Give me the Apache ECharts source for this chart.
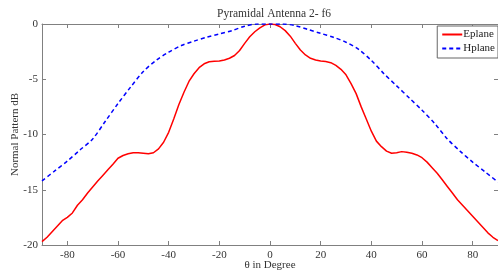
<!DOCTYPE html>
<html>
<head>
<meta charset="utf-8">
<script src="https://cdn.jsdelivr.net/npm/echarts@6/dist/echarts.min.js"></script>
<style>
  html, body { margin: 0; padding: 0; background: #fff; }
  #chart { width: 498px; height: 273px; }
</style>
</head>
<body>
<div id="chart"></div>
<script>
// E-plane pattern (dB)
const thetaE = [-90, -88, -86, -84, -82, -80, -78, -76, -74, -72, -70, -68, -66, -64, -62, -60,
  -58, -56, -54, -52, -50, -48, -46, -44, -42, -40, -38, -36, -34, -32, -30, -28, -26, -24, -22,
  -20, -18, -16, -14, -12, -10, -8, -6, -4, -2, 0, 2, 4, 6, 8, 10, 12, 14, 16, 18, 20, 22, 24, 26,
  28, 30, 32, 34, 36, 38, 40, 42, 44, 46, 48, 50, 52, 54, 56, 58, 60, 62, 64, 66, 68, 70, 72, 74,
  76, 78, 80, 82, 84, 86, 88, 90]
const eplane = [-19.7, -19.3, -18.8, -18.3, -17.8, -17.5, -17.1, -16.4, -15.9, -15.3, -14.75,
  -14.2, -13.7, -13.2, -12.7, -12.15, -11.9, -11.75, -11.65, -11.65, -11.7, -11.75, -11.65, -11.3,
  -10.7, -9.8, -8.6, -7.3, -6.2, -5.2, -4.5, -3.95, -3.6, -3.42, -3.38, -3.35, -3.25, -3.1, -2.85,
  -2.4, -1.75, -1.15, -0.7, -0.35, -0.08, 0, -0.05, -0.25, -0.6, -1.1, -1.75, -2.35, -2.8, -3.1,
  -3.25, -3.35, -3.4, -3.5, -3.75, -4.1, -4.6, -5.4, -6.3, -7.5, -8.6, -9.7, -10.6, -11.1, -11.5,
  -11.7, -11.65, -11.55, -11.6, -11.7, -11.85, -12.1, -12.5, -13.0, -13.5, -14.1, -14.7, -15.3,
  -15.9, -16.4, -16.9, -17.4, -17.9, -18.4, -18.9, -19.3, -19.6]

// H-plane pattern (dB)
const thetaH = [-90, -85, -80, -75, -70, -65, -60, -55, -50, -45, -40, -35, -30, -25, -20, -15,
  -10, -5, 0, 5, 10, 15, 20, 25, 30, 35, 40, 45, 50, 55, 60, 65, 70, 75, 80, 85, 90]
const hplane = [-14.2, -13.3, -12.4, -11.4, -10.4, -8.8, -7.2, -5.7, -4.3, -3.3, -2.55, -1.95,
  -1.55, -1.2, -0.9, -0.6, -0.2, 0, 0, 0, -0.15, -0.5, -0.85, -1.2, -1.65, -2.3, -3.3, -4.5, -5.6,
  -6.7, -7.8, -9.0, -10.4, -11.5, -12.5, -13.4, -14.3]

const xTicks = [-80, -60, -40, -20, 0, 20, 40, 60, 80]

const serif = 'Liberation Serif'
const chart = echarts.init(document.getElementById('chart'))

const axisBase = {
  axisLine: { show: true, onZero: false, lineStyle: { color: '#808080', width: 1 } },
  axisTick: { show: true, inside: true, length: 4, lineStyle: { color: '#808080' } },
  splitLine: { show: false }
}

const option = {
  animation: false,
  backgroundColor: '#fff',
  title: {
    text: 'Pyramidal Antenna 2- f6',
    left: 212,
    top: 3,
    textStyle: { fontFamily: serif, fontSize: 11.5, fontWeight: 'normal', color: '#333' }
  },
  legend: {
    orient: 'vertical',
    right: 0,
    top: 26,
    backgroundColor: '#fff',
    borderColor: '#666',
    borderWidth: 1,
    borderRadius: 0,
    padding: [3, 3, 4, 4],
    itemGap: 3,
    itemWidth: 20,
    itemHeight: 8,
    itemStyle: { opacity: 0 },
    textStyle: { fontFamily: serif, fontSize: 11, color: '#222', padding: [0, 0, 0, -4] },
    data: ['Eplane', 'Hplane']
  },
  grid: { left: 42, right: 0, top: 24, bottom: 28, containLabel: false, outerBoundsMode: 'none' },
  xAxis: [{
    ...axisBase,
    type: 'value',
    min: -90,
    max: 90,
    name: 'θ in Degree',
    nameLocation: 'middle',
    nameGap: 15,
    nameMoveOverlap: false,
    nameTextStyle: { fontFamily: serif, fontSize: 11, color: '#333' },
    axisTick: { ...axisBase.axisTick, customValues: xTicks },
    axisLabel: { customValues: xTicks, fontFamily: serif, fontSize: 11, color: '#333', margin: 5 }
  }, {
    ...axisBase,
    type: 'value',
    position: 'top',
    min: -90,
    max: 90,
    axisTick: { ...axisBase.axisTick, customValues: xTicks },
    axisLabel: { show: false }
  }],
  yAxis: [{
    ...axisBase,
    type: 'value',
    min: -20,
    max: 0,
    interval: 5,
    name: 'Normal Pattern dB',
    nameLocation: 'middle',
    nameGap: 21,
    nameMoveOverlap: false,
    nameTextStyle: { fontFamily: serif, fontSize: 11, color: '#333' },
    axisLabel: { fontFamily: serif, fontSize: 11, color: '#333', margin: 4 }
  }, {
    ...axisBase,
    type: 'value',
    position: 'right',
    min: -20,
    max: 0,
    interval: 5,
    axisLabel: { show: false }
  }],
  series: [{
    name: 'Eplane',
    type: 'line',
    symbol: 'none',
    data: thetaE.map((t, i) => [t, eplane[i]]),
    lineStyle: { color: '#ff0000', width: 1.5 },
    itemStyle: { color: '#ff0000' }
  }, {
    name: 'Hplane',
    type: 'line',
    symbol: 'none',
    smooth: 0.3,
    data: thetaH.map((t, i) => [t, hplane[i]]),
    lineStyle: { color: '#0000ff', width: 1.5, type: [4, 3] },
    itemStyle: { color: '#0000ff' }
  }]
}

chart.setOption(option)
</script>
</body>
</html>
